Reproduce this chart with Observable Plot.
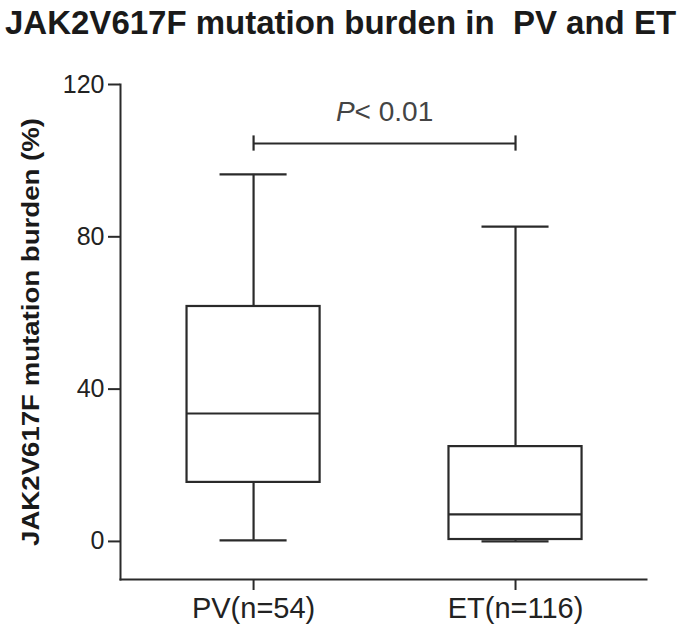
<!DOCTYPE html>
<html>
<head>
<meta charset="utf-8">
<script src="https://cdn.jsdelivr.net/npm/d3@7"></script>
<script src="https://cdn.jsdelivr.net/npm/@observablehq/plot@0.6"></script>
<style>
  html, body { margin: 0; padding: 0; background: #fff; }
  #title { font-family: "Liberation Sans", Arial, sans-serif; font-weight: bold; font-size: 33px;
           color: #1a1a1a; height: 60px; line-height: 46px; padding-left: 5px; white-space: pre; }
  svg text { font-family: "Liberation Sans", Arial, sans-serif; }
</style>
</head>
<body>
<div id="title">JAK2V617F mutation burden in  PV and ET</div>
<div id="chart"></div>
<script>
// ---- data ----
const groups   = ["PV(n=54)", "ET(n=116)"];
const mins     = [0.3, 0.0];
const q1s      = [15.5, 0.5];
const medians  = [33.6, 7.1];
const q3s      = [61.7, 24.9];
const maxs     = [96.4, 82.7];
const yTicks   = [0, 40, 80, 120];
const yLabel   = "JAK2V617F mutation burden (%)";
const pText    = "P< 0.01";
const bracketY = 104.5;
const pTextY   = 110.3;

// ---- build table ----
const boxes = groups.map((g, i) => ({
  i, g, min: mins[i], q1: q1s[i], median: medians[i], q3: q3s[i], max: maxs[i]
}));
const bracket = [{from: 0, to: 1, y: bracketY}];

const boxHalf = 0.254, capHalf = 0.128, ink = "#2a2a2a", sw = 2.2;

const plot = Plot.plot({
  width: 687,
  height: 574,
  marginTop: 24,
  marginBottom: 55,
  marginLeft: 120,
  marginRight: 41,
  style: {fontFamily: "'Liberation Sans', Arial, sans-serif", color: "#222"},
  x: {type: "linear", domain: [-0.508, 1.5]},
  y: {domain: [-10, 120]},
  marks: [
    Plot.frame({anchor: "left", stroke: ink, strokeWidth: 2}),
    Plot.frame({anchor: "bottom", stroke: ink, strokeWidth: 2}),
    Plot.axisY({ticks: yTicks, tickSize: 12, tickPadding: 4, fontSize: 25, stroke: ink, strokeWidth: 2,
      label: yLabel, labelAnchor: "center", labelArrow: "none", labelOffset: 99}),
    Plot.axisX({ticks: [0, 1], tickFormat: i => groups[i], tickSize: 11, tickPadding: 7, fontSize: 29,
      stroke: ink, strokeWidth: 2, label: null}),
    // whiskers
    Plot.ruleX(boxes, {x: "i", y1: "q3", y2: "max", stroke: ink, strokeWidth: sw}),
    Plot.ruleX(boxes, {x: "i", y1: "min", y2: "q1", stroke: ink, strokeWidth: sw}),
    Plot.ruleY(boxes, {y: "max", x1: d => d.i - capHalf, x2: d => d.i + capHalf, stroke: ink, strokeWidth: sw}),
    Plot.ruleY(boxes, {y: "min", x1: d => d.i - capHalf, x2: d => d.i + capHalf, stroke: ink, strokeWidth: sw}),
    // boxes
    Plot.rect(boxes, {x1: d => d.i - boxHalf, x2: d => d.i + boxHalf, y1: "q1", y2: "q3",
      fill: "white", stroke: ink, strokeWidth: sw}),
    Plot.ruleY(boxes, {y: "median", x1: d => d.i - boxHalf, x2: d => d.i + boxHalf, stroke: ink, strokeWidth: sw}),
    // significance bracket
    Plot.ruleY(bracket, {y: "y", x1: "from", x2: "to", stroke: ink, strokeWidth: sw}),
    Plot.ruleX(bracket, {x: "from", y1: d => d.y - 2, y2: d => d.y + 2, stroke: ink, strokeWidth: sw}),
    Plot.ruleX(bracket, {x: "to", y1: d => d.y - 2, y2: d => d.y + 2, stroke: ink, strokeWidth: sw}),
    Plot.text(bracket, {x: d => (d.from + d.to) / 2, y: pTextY, text: () => pText, fontSize: 28,
      fill: "#444", lineAnchor: "bottom", className: "ptext"})
  ]
});

document.getElementById("chart").appendChild(plot);

// italic P
d3.select(plot).selectAll("g.ptext text").each(function() {
  const t = this.textContent;
  if (t.startsWith("P")) {
    this.textContent = "";
    d3.select(this).append("tspan").attr("font-style", "italic").text("P");
    d3.select(this).append("tspan").text(t.slice(1));
  }
});
// bold, slightly stretched y label (glyphs in the reference are elongated)
d3.select(plot).selectAll("g[aria-label='y-axis label'] text")
  .attr("font-weight", "bold").attr("font-size", 24).attr("fill", "#1a1a1a")
  .each(function() {
    const len = this.getComputedTextLength();
    this.setAttribute("textLength", len * 1.15);
    this.setAttribute("lengthAdjust", "spacingAndGlyphs");
  });
</script>
</body>
</html>
